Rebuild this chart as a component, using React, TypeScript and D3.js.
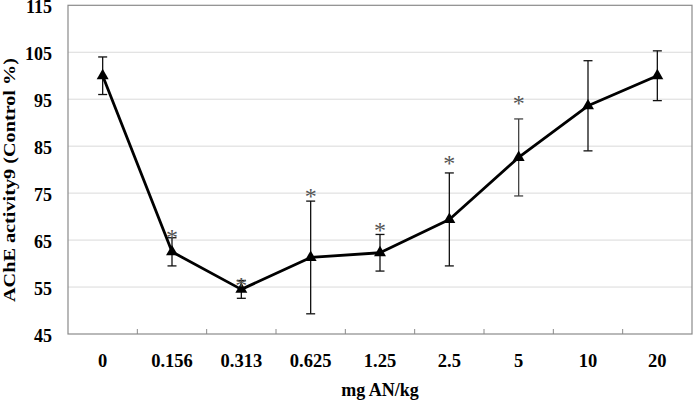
import React from "react";
import * as d3 from "d3";

const categories = ["0", "0.156", "0.313", "0.625", "1.25", "2.5", "5", "10", "20"];
const means = [100, 62.5, 54.5, 61.3, 62.3, 69.4, 82.6, 93.6, 100];
const errors = [4, 3, 1.9, 12, 3.9, 9.9, 8.2, 9.6, 5.3];
// value level at which the significance asterisk sits (null = not significant)
const asteriskLevels: (number | null)[] = [null, 66.3, 56.1, 75.1, 67.9, 82.1, 94.9, null, null];
const yTicks = [45, 55, 65, 75, 85, 95, 105, 115];

const W = 693, H = 401;
const M = { left: 68, right: 1, top: 5.3, bottom: 67 };

export default function App() {
  const x = d3.scaleBand().domain(categories).range([M.left, W - M.right]).padding(0);
  const y = d3.scaleLinear().domain([45, 115]).range([H - M.bottom, M.top]);
  const cx = (c: string) => (x(c) as number) + x.bandwidth() / 2;
  const line = d3.line<number>().x((_, i) => cx(categories[i])).y((v) => y(v));
  const tri = d3.symbol().type(d3.symbolTriangle).size(62)() as string;
  const font = "'Liberation Serif', 'Times New Roman', serif";
  const x0 = M.left, x1 = W - M.right, yb = H - M.bottom;
  return (
    <svg width={W} height={H} style={{ position: "absolute", left: 0, top: 0, background: "#fff" }}>
      {yTicks.slice(1, -1).map((t) => (
        <line key={t} x1={x0} x2={x1} y1={y(t)} y2={y(t)} stroke="#dadada" strokeWidth={1} />
      ))}
      <rect x={x0} y={M.top} width={x1 - x0} height={yb - M.top} fill="none" stroke="#8a8a8a" strokeWidth={1.2} />
      {categories.slice(1).map((c) => (
        <line key={c} x1={x(c) as number} x2={x(c) as number} y1={yb} y2={yb - 5} stroke="#8a8a8a" strokeWidth={1} />
      ))}
      {yTicks.map((t) => (
        <text key={t} x={52} y={y(t) + 7.9} textAnchor="end" fontFamily={font} fontWeight="bold" fontSize={18}>{t}</text>
      ))}
      {categories.map((c) => (
        <text key={c} x={cx(c)} y={367} textAnchor="middle" fontFamily={font} fontWeight="bold" fontSize={18.5}>{c}</text>
      ))}
      <text x={(x0 + x1) / 2} y={396} textAnchor="middle" fontFamily={font} fontWeight="bold" fontSize={18}>mg AN/kg</text>
      <text transform={`translate(14.5, 180) rotate(-90)`} textAnchor="middle" fontFamily={font} fontWeight="bold" fontSize={17} textLength={244} lengthAdjust="spacingAndGlyphs">AChE activity9 (Control %)</text>
      {categories.map((c, i) => {
        const px = cx(c);
        const top = y(means[i] + errors[i]);
        const bot = y(means[i] - errors[i]);
        return (
          <g key={c} stroke={i === 6 ? "#444" : "#111"} strokeWidth={1.3}>
            <line x1={px} x2={px} y1={top} y2={bot} />
            <line x1={px - 4.5} x2={px + 4.5} y1={top} y2={top} />
            <line x1={px - 4.5} x2={px + 4.5} y1={bot} y2={bot} />
          </g>
        );
      })}
      <path d={line(means) as string} fill="none" stroke="#000" strokeWidth={2.8} strokeLinejoin="round" />
      {categories.map((c, i) => (
        <path key={c} d={tri} transform={`translate(${cx(c)}, ${y(means[i])})`} fill="#000" />
      ))}
      {categories.map((c, i) => {
        const lv = asteriskLevels[i];
        return lv !== null ? (
          <text key={c} x={cx(c)} y={y(lv) + 11.5} textAnchor="middle" fontFamily={font} fontSize={24} fill="#555">*</text>
        ) : null;
      })}
    </svg>
  );
}
